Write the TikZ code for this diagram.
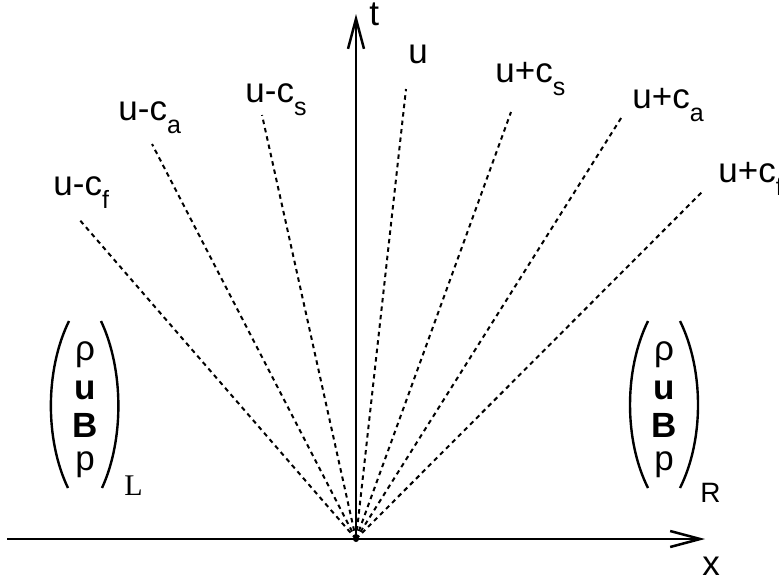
\documentclass[tikz,border=0pt]{standalone}
\usepackage{fontspec}
\setmainfont{Liberation Sans}
\newfontfamily\serifL{Liberation Serif}
\usetikzlibrary{arrows.meta}
\newcommand\mainsz{\fontsize{17.5}{21}\selectfont}
\newcommand\subsz{\fontsize{12.5}{15}\selectfont}
\newcommand\wlab[2]{#1\raisebox{-6.5pt}{\subsz #2}}
\begin{document}
\begin{tikzpicture}[x=0.5pt,y=-0.5pt,
  axis/.style={line width=1.25pt,-{Straight Barb[length=15pt,width=8pt,line width=1.25pt]}},
  wave/.style={line width=1pt,dash pattern=on 2.25pt off 2pt},
  lab/.style={anchor=base west,inner sep=0pt,font=\mainsz},
  vec/.style={anchor=base,inner sep=0pt,font=\mainsz},
  paren/.style={line width=1.2pt}]
\useasboundingbox (0,0) rectangle (779,584);
% axes
\coordinate (O) at (356,539);
\coordinate (xs) at (7,539);
\coordinate (xe) at (705,539);
\coordinate (te) at (356,14);
\draw[axis] (xs) -- (xe);
\draw[axis] (O) -- (te);
\node[lab] (tl) at (369,25) {t};
\node[lab] (xl) at (702,575) {x};
% wave end points
\coordinate (ecf) at (78,218);
\coordinate (eca) at (152,144);
\coordinate (ecs) at (262,115);
\coordinate (eu)  at (406,89);
\coordinate (pcs) at (511,112);
\coordinate (pca) at (623,115);
\coordinate (pcf) at (704,190);
\foreach \e in {ecf,eca,ecs,eu,pcs,pca,pcf} \draw[wave] (O) -- (\e);
\fill (O) circle (3);
% labels
\node[lab] (lcf) at (53,195) {\wlab{u-c}{f}};
\node[lab] (lca) at (118,120) {\wlab{u-c}{a}};
\node[lab] (lcs) at (245,102) {\wlab{u-c}{s}};
\node[lab] (lu)  at (408,63) {u};
\node[lab] (rcs) at (495,82) {\wlab{u+c}{s}};
\node[lab] (rca) at (632,108) {\wlab{u+c}{a}};
\node[lab] (rcf) at (718,182) {\wlab{u+c}{f}};
% left state
\draw[paren] (69,321) .. controls (45,370) and (45,440) .. (68,488);
\draw[paren] (101,321) .. controls (124,370) and (124,440) .. (102,488);
\node[vec] (lrho) at (85,360) {ρ};
\node[vec] (lvu)  at (85,399) {\textbf{u}};
\node[vec] (lvB)  at (85,437) {\textbf{B}};
\node[vec] (lvp)  at (85,470) {p};
\node[anchor=base west,inner sep=0pt,font=\fontsize{15}{18}\selectfont\serifL] (Lsub) at (124,495) {L};
% right state
\draw[paren] (648,321) .. controls (624,370) and (624,440) .. (648,488);
\draw[paren] (680,321) .. controls (704,370) and (704,440) .. (680,488);
\node[vec] (rrho) at (664,360) {ρ};
\node[vec] (rvu)  at (664,399) {\textbf{u}};
\node[vec] (rvB)  at (664,437) {\textbf{B}};
\node[vec] (rvp)  at (664,470) {p};
\node[anchor=base west,inner sep=0pt,font=\fontsize{14}{17}\selectfont] (Rsub) at (700,502) {R};
\end{tikzpicture}
\end{document}
